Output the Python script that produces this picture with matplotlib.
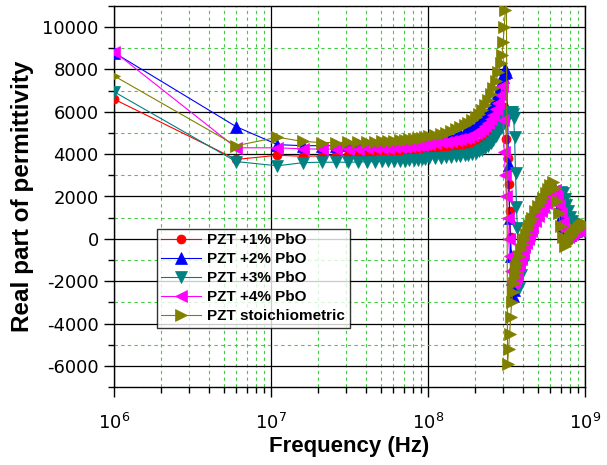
import matplotlib.pyplot as plt
from matplotlib.ticker import MultipleLocator, LogLocator, NullFormatter
import numpy as np

plt.rcParams['mathtext.default'] = 'regular'
plt.rcParams['axes.unicode_minus'] = False

# frequency points (MHz), shared by every sample
freq_mhz = [1, 6, 11, 16, 21, 26, 31, 36, 41, 46, 51, 56, 61, 66, 71, 76, 81, 86, 91, 96,
            101, 111, 121, 131, 141, 151, 161, 171, 181, 191, 201, 211, 221, 231, 241, 251, 261, 271, 281, 291,
            296, 301, 306, 311, 316, 321, 326, 331, 336, 341, 346, 351, 356, 361, 366,
            371, 381, 391, 401, 411, 421, 431, 441, 451, 461,
            481, 501, 521, 541, 561, 581, 601, 621, 641, 661, 681, 701, 721, 741, 761, 781, 801, 821, 841, 861,
            881, 901, 921, 941, 961, 981, 996]

pbo1 = [6600, 3750, 3950, 3900, 3920, 3940, 3950, 3960, 3970, 3980, 3990, 4000, 4010, 4020, 4030, 4040, 4060, 4080, 4100, 4120,
        4250, 4260, 4280, 4300, 4320, 4340, 4360, 4380, 4400, 4430, 4470, 4520, 4580, 4660, 4760, 4880, 5030, 5220, 5450, 5750,
        5950, 6150, 6250, 5600, 4700, 3800, 2600, 1300, 100, -800, -1500, -1400, -1300, -1200, -1100,
        -1000, -750, -500, -250, -50, 150, 300, 450, 600, 750,
        1000, 1250, 1450, 1650, 1800, 1950, 2100, 2200, 2150, 1800, 1300, 850, 450, 200, 100, 170, 240, 300, 350, 400,
        440, 470, 500, 520, 540, 560, 570]

pbo2 = [8800, 5300, 4450, 4400, 4400, 4400, 4410, 4420, 4430, 4440, 4450, 4460, 4470, 4490, 4510, 4530, 4550, 4570, 4590, 4610,
        4640, 4680, 4720, 4770, 4820, 4880, 4950, 5030, 5120, 5220, 5330, 5460, 5600, 5760, 5940, 6140, 6370, 6630, 6920, 7250,
        7450, 7650, 7850, 8000, 7900, 6000, 3500, 1000, -800, -1900, -2700, -2400, -2100, -1900, -1700,
        -1500, -1150, -850, -550, -300, -100, 100, 300, 480, 650,
        950, 1200, 1400, 1600, 1800, 2000, 2200, 2350, 2350, 2000, 1500, 1000, 600, 250, 100, 120, 200, 270, 330, 380,
        420, 460, 490, 520, 540, 560, 570]

pbo3 = [6950, 3650, 3450, 3600, 3620, 3620, 3620, 3630, 3640, 3650, 3660, 3670, 3680, 3690, 3700, 3710, 3720, 3740, 3760, 3780,
        3800, 3820, 3840, 3860, 3880, 3900, 3920, 3950, 3980, 4020, 4070, 4130, 4200, 4290, 4400, 4530, 4680, 4850, 5040, 5250,
        5350, 5450, 5550, 5650, 5750, 5850, 5900, 5950, 6000, 6000, 5900, 5700, 4800, 3100, 1500,
        500, -2300, -1700, -1200, -800, -400, -100, 200, 450, 650,
        950, 1150, 1300, 1450, 1600, 1700, 1800, 1900, 2000, 2050, 2150, 2200, 2150, 1900, 1600, 1300, 1050, 850, 700, 600,
        520, 460, 420, 390, 370, 360, 360]

pbo4 = [8850, 4300, 4300, 4250, 4240, 4240, 4250, 4260, 4270, 4280, 4290, 4300, 4320, 4340, 4360, 4380, 4400, 4420, 4440, 4460,
        4500, 4530, 4560, 4590, 4620, 4660, 4700, 4750, 4820, 4900, 4990, 5090, 5200, 5330, 5480, 5660, 5870, 6120, 6420, 6800,
        7200, 5600, 4100, 3000, 2000, 1000, 0, -800, -1500, -2000, -2100, -2000, -1900, -1800, -1700,
        -1600, -1250, -950, -650, -400, -200, 0, 200, 380, 550,
        850, 1100, 1300, 1500, 1700, 1900, 2100, 2250, 2300, 2000, 1600, 1200, 800, 400, 150, 100, 180, 250, 310, 360,
        400, 440, 470, 500, 520, 540, 550]

stoich = [7700, 4400, 4800, 4600, 4550, 4550, 4560, 4570, 4580, 4590, 4600, 4620, 4640, 4660, 4680, 4700, 4720, 4750, 4780, 4810,
          4850, 4900, 4960, 5020, 5090, 5170, 5260, 5360, 5470, 5600, 5750, 5920, 6110, 6320, 6560, 6830, 7130, 7470, 7860, 8300,
          8700, 9300, 10000, 10800, 11600, -5900, -5200, -4500, -3700, -3000, -2500, -2100, -1800, -1550, -1350,
          -1150, -800, -500, -250, 0, 250, 450, 650, 850, 1000,
          1300, 1550, 1750, 1950, 2150, 2350, 2550, 2700, 2400, 1800, 1200, 600, 100, -350, -250, -100, 80, 180, 270, 350,
          420, 480, 540, 600, 640, 680, 700]

labels = ['PZT +1% PbO', 'PZT +2% PbO', 'PZT +3% PbO', 'PZT +4% PbO', 'PZT stoichiometric']
colors = ['#ff0000', '#0000ff', '#008080', '#ff00ff', '#808000']
markers = ['o', '^', 'v', '<', '>']

freq = np.array(freq_mhz) * 1e6

fig = plt.figure(figsize=(6.07, 4.65), dpi=100)
ax = fig.add_axes([114/607, 1 - 387/465, 471/607, 381/465])

for vals, lab, c, m in zip([pbo1, pbo2, pbo3, pbo4, stoich], labels, colors, markers):
    ms = 6.5 if m == 'o' else 8.5
    ax.plot(freq, vals, color=c, marker=m, markersize=ms, linewidth=0.8,
            markeredgewidth=0.5, label=lab, zorder=3)

ax.set_xscale('log')
ax.set_xlim(1e6, 1e9)
ax.set_ylim(-7000, 11000)
ax.yaxis.set_major_locator(MultipleLocator(2000))
ax.yaxis.set_minor_locator(MultipleLocator(1000))
ax.xaxis.set_minor_locator(LogLocator(base=10, subs=np.arange(2, 10)))
ax.xaxis.set_minor_formatter(NullFormatter())

ax.grid(True, which='major', color='black', linewidth=0.9, linestyle='-', zorder=1)
ax.grid(True, which='minor', color='#44cc44', linewidth=0.8, linestyle=(0, (3, 3)), zorder=1)
ax.set_axisbelow(True)

ax.tick_params(which='major', direction='out', length=7, width=1, labelsize=13,
               top=False, right=False)
ax.tick_params(axis='x', which='major', pad=12)
ax.tick_params(axis='y', which='major', pad=4)
ax.tick_params(which='minor', direction='out', length=4, width=1, top=False, right=False)
for lab in ax.get_yticklabels() + ax.get_xticklabels():
    lab.set_family('DejaVu Sans')
for sp in ax.spines.values():
    sp.set_linewidth(1.0)

ax.set_xlabel('Frequency (Hz)', fontsize=16, fontweight='bold', family='Liberation Sans', labelpad=2)
ax.set_ylabel('Real part of permittivity', fontsize=17.5, fontweight='bold', family='Liberation Sans', labelpad=6)

leg = ax.legend(loc='upper left', bbox_to_anchor=(0.091, 0.415), frameon=True, fancybox=False,
                prop={'family': 'Liberation Sans', 'weight': 'bold', 'size': 11},
                handlelength=2.6, borderpad=0.3, labelspacing=0.32, handletextpad=0.4,
                borderaxespad=0)
leg.get_frame().set_edgecolor('black')
leg.get_frame().set_linewidth(1.0)
leg.set_zorder(5)

fig.savefig('out.png', dpi=100)
